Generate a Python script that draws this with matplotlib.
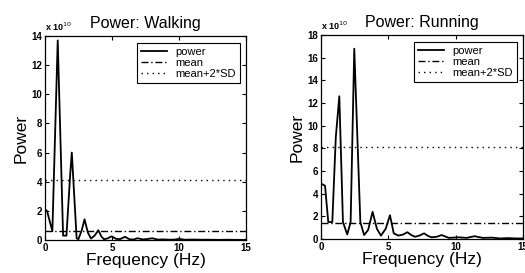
import numpy as np
import matplotlib
matplotlib.use("Agg")
import matplotlib.pyplot as plt

plt.rcParams["font.family"] = ["Liberation Sans", "DejaVu Sans"]

# Walking spectrum (power in units of 1e10)
freq_walk = [0, 0.15, 0.55, 0.95, 1.35, 1.6, 1.88, 2.0, 2.36, 2.49, 2.75, 2.95, 3.2, 3.43,
             3.7, 3.98, 4.2, 4.4, 4.7, 4.97, 5.3, 5.6, 5.97, 6.3, 6.6, 6.9, 7.3, 7.6, 8.0,
             8.4, 8.8, 9.3, 9.7, 10.0, 10.4, 11.0, 11.6, 12.2, 13.0, 13.7, 14.3, 15.0]
power_walk = [2.1, 2.0, 0.6, 13.7, 0.3, 0.3, 4.5, 6.0, 0.12, 0.05, 0.7, 1.42, 0.5, 0.1,
              0.3, 0.67, 0.25, 0.05, 0.12, 0.25, 0.08, 0.06, 0.22, 0.05, 0.03, 0.12, 0.04, 0.06,
              0.12, 0.03, 0.04, 0.02, 0.03, 0.08, 0.02, 0.03, 0.02, 0.02, 0.01, 0.02, 0.01, 0.01]
mean_walk = 0.62
thr_walk = 4.15

# Running spectrum (power in units of 1e10)
freq_run = [0, 0.3, 0.54, 0.84, 1.1, 1.36, 1.63, 1.95, 2.2, 2.47, 2.92, 3.2, 3.5, 3.83,
            4.15, 4.45, 4.8, 5.12, 5.4, 5.74, 6.1, 6.41, 6.7, 6.98, 7.3, 7.65, 7.9, 8.2,
            8.6, 8.95, 9.5, 10.2, 10.8, 11.4, 12.0, 12.7, 13.3, 13.9, 14.5, 15.0]
power_run = [4.9, 4.7, 1.5, 1.5, 9.0, 12.6, 1.5, 0.4, 1.5, 16.8, 1.5, 0.35, 0.8, 2.4,
             0.9, 0.3, 0.9, 2.1, 0.5, 0.3, 0.4, 0.6, 0.35, 0.2, 0.3, 0.5, 0.3, 0.15,
             0.2, 0.35, 0.1, 0.15, 0.1, 0.25, 0.1, 0.12, 0.05, 0.08, 0.05, 0.05]
mean_run = 1.45
thr_run = 8.15

panels = [
    ("Power: Walking", freq_walk, power_walk, mean_walk, thr_walk, 14,
     [0.0857, 0.1209, 0.383, 0.747]),
    ("Power: Running", freq_run, power_run, mean_run, thr_run, 18,
     [0.6114, 0.1245, 0.385, 0.747]),
]

fig = plt.figure(figsize=(5.25, 2.73), dpi=100)

for title, f, p, m, t, ymax, rect in panels:
    ax = fig.add_axes(rect)
    ax.plot(f, p, color="black", lw=1.3, label="power")
    ax.plot([0, 15], [m, m], color="black", lw=1.0, ls=(0, (5, 2, 1, 2)), label="mean")
    ax.plot([0, 15], [t, t], color="black", lw=1.0, ls=(0, (1, 3)), label="mean+2*SD")
    ax.set_xlim(0, 15)
    ax.set_ylim(0, ymax)
    ax.set_xticks([0, 5, 10, 15])
    ax.set_yticks(np.arange(0, ymax + 1, 2))
    ax.tick_params(direction="in", top=True, right=True, length=3, width=0.8,
                   labelsize=7, pad=2)
    for lab in ax.get_xticklabels() + ax.get_yticklabels():
        lab.set_fontweight("bold")
    for s in ax.spines.values():
        s.set_linewidth(0.9)
    ax.set_title(title, fontsize=11.5, pad=6)
    ax.set_xlabel("Frequency (Hz)", fontsize=12.5, labelpad=0)
    ax.set_ylabel("Power", fontsize=12.5, labelpad=2)
    ax.text(0.0, 1.015, r"x 10$^{10}$", transform=ax.transAxes, fontsize=6.5,
            fontweight="bold", ha="left", va="bottom")
    leg = ax.legend(loc="upper right", bbox_to_anchor=(0.968, 0.966), borderaxespad=0,
                    fontsize=8, fancybox=False, framealpha=1, edgecolor="black",
                    handlelength=2.4, labelspacing=0.1, borderpad=0.35,
                    handletextpad=0.7)
    leg.get_frame().set_linewidth(0.8)

fig.savefig("out.png", dpi=100)
